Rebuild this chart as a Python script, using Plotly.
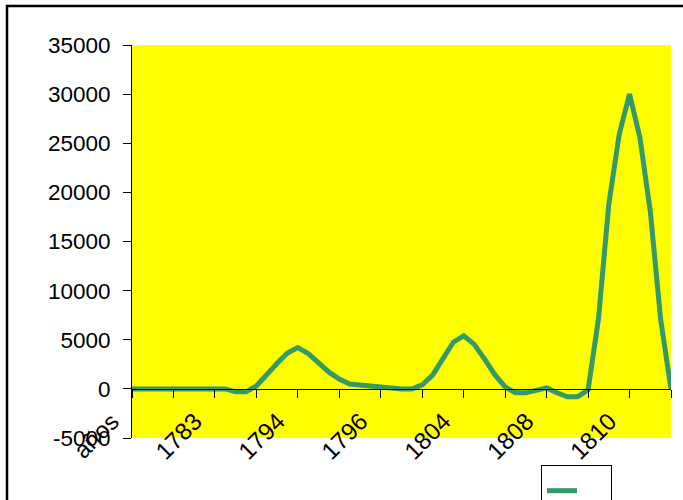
import plotly.graph_objects as go

# ---- data ----
tick_labels = ["años", "", "1783", "", "1794", "", "1796", "", "1804", "", "1808", "", "1810", ""]
points_per_tick = 4
values = [
    0, 0, 0, 0, 0, 0, 0, 0, 0,            # años .. 1783
    0, -300, -300, 300, 1500, 2600, 3650, 4200,
    3600, 2650, 1700, 1000, 500, 400, 300, 200,
    50, 0, 0, 400, 1400, 3000, 4750, 5400,
    4550, 3050, 1450, 200, -400, -400, -200, 100,
    -400, -800, -800, -100, 7100, 18800, 25900, 30000,
    25600, 18100, 7100, 0,
]
y_ticks = [-5000, 0, 5000, 10000, 15000, 20000, 25000, 30000, 35000]

x = [i / points_per_tick for i in range(len(values))]
tick_pos = list(range(len(tick_labels)))

FONT = "Liberation Sans, Arial, sans-serif"

fig = go.Figure()
fig.add_trace(go.Scatter(
    x=x, y=values, mode="lines", name="\u00a0\u00a0\u00a0",
    line=dict(color="#339966", width=5),
))

xr = [0, len(tick_labels) - 1]
yr = [y_ticks[0], y_ticks[-1]]
xpos = (0 - yr[0]) / (yr[1] - yr[0])

fig.update_layout(
    width=683, height=500,
    margin=dict(l=132, r=12, t=45, b=62, autoexpand=False),
    paper_bgcolor="white",
    plot_bgcolor="#FFFF00",
    font=dict(family=FONT, size=22.5, color="black"),
    showlegend=True,
    legend=dict(
        x=(541 - 132) / 539, y=(438 - 465) / 393,
        xanchor="left", yanchor="top",
        bordercolor="black", borderwidth=1, bgcolor="white",
        itemwidth=30, font=dict(size=28),
    ),
    xaxis=dict(
        range=xr, tickvals=tick_pos, ticktext=tick_labels,
        tickangle=-45, ticks="outside", ticklen=8, tickcolor="black",
        showline=True, linecolor="black", linewidth=1,
        showgrid=False, zeroline=False, automargin=False,
        anchor="free", position=xpos,
        ticklabelstandoff=0, ticklabelshift=-20,
        tickfont=dict(size=24, family=FONT),
    ),
    xaxis2=dict(
        range=xr, tickvals=tick_pos, overlaying="x",
        ticks="inside", ticklen=8, tickcolor="black",
        showticklabels=False, showline=False, showgrid=False, zeroline=False,
        anchor="free", position=xpos, automargin=False,
    ),
    yaxis=dict(
        range=yr, tickvals=y_ticks, ticktext=[str(v) for v in y_ticks],
        ticks="outside", ticklen=8, tickcolor="black",
        showline=True, linecolor="black", linewidth=1,
        showgrid=False, zeroline=False, automargin=False,
        ticklabelstandoff=8,
        tickfont=dict(size=22.5, family=FONT),
    ),
    yaxis2=dict(
        range=yr, tickvals=y_ticks, overlaying="y", side="left",
        ticks="inside", ticklen=8, tickcolor="black",
        showticklabels=False, showline=False, showgrid=False, zeroline=False,
        anchor="x", automargin=False,
    ),
    shapes=[dict(
        type="rect", xref="paper", yref="paper",
        x0=(7 - 132) / 539, x1=(720 - 132) / 539,
        y0=(438 - 540) / 393, y1=(438 - 6) / 393,
        line=dict(color="black", width=2.5), fillcolor="rgba(0,0,0,0)",
        layer="above",
    )],
)

fig.write_html("out.html")
